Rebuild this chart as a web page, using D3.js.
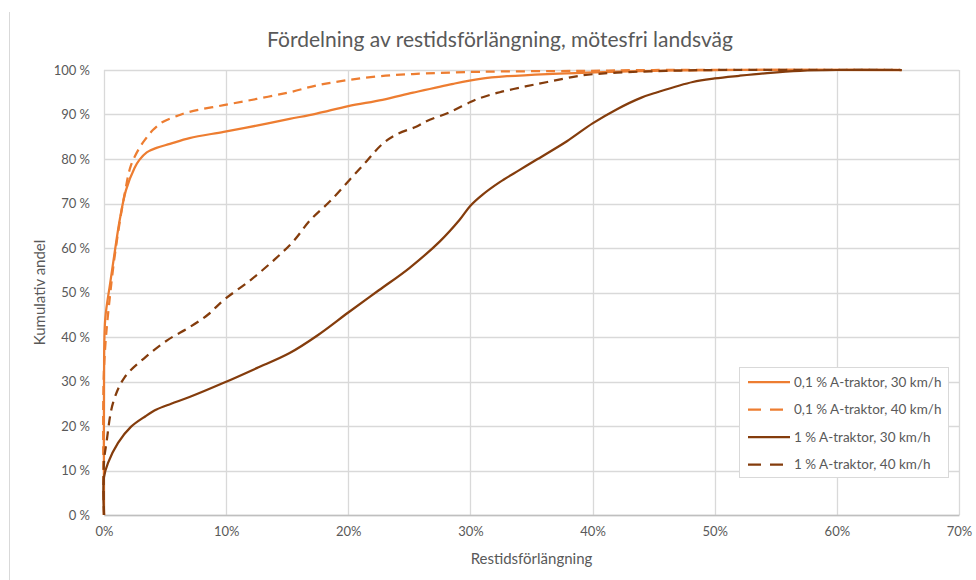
<!DOCTYPE html>
<html>
<head>
<meta charset="utf-8">
<script src="https://cdn.jsdelivr.net/npm/d3@7"></script>
<style>
  html, body { margin: 0; padding: 0; background: #fff; }
  text { font-family: Lato, "Open Sans", sans-serif; fill: #595959; }
</style>
</head>
<body>
<svg id="chart" width="976" height="580"></svg>
<script>
// ---- Data (x = restidsförlängning %, y = kumulativ andel %) ----
const titleText = "Fördelning av restidsförlängning, mötesfri landsväg";
const xTicks = [0, 10, 20, 30, 40, 50, 60, 70];
const yTicks = [0, 10, 20, 30, 40, 50, 60, 70, 80, 90, 100];
const seriesNames = ["0,1 % A-traktor, 30 km/h", "0,1 % A-traktor, 40 km/h", "1 % A-traktor, 30 km/h", "1 % A-traktor, 40 km/h"];

const s1x = [0, 0, 0.1, 0.5, 0.9, 1.3, 1.8, 2.5, 2.9, 3.5, 4.3, 5.4, 7.0, 9.8, 12.5, 15.2, 17.4, 20, 22.8, 25.3, 28.6, 30.8, 33, 36.3, 39.5, 43, 47, 52, 65.3];
const s1y = [0, 30, 44, 52, 59.5, 66.5, 73, 78, 79.8, 81.5, 82.5, 83.4, 84.7, 86.1, 87.5, 89, 90.2, 91.9, 93.3, 94.9, 96.9, 98, 98.6, 99.1, 99.4, 99.7, 99.9, 100, 100];

const s2x = [0, 0, 0.6, 1.15, 1.7, 2.2, 2.9, 3.4, 4.0, 4.8, 6, 7, 9.8, 12.5, 15.2, 17.5, 19.9, 22.5, 25.3, 30.8, 39, 45, 65.3];
const s2y = [0, 33, 52, 63.4, 72.3, 78.5, 82.5, 84.5, 86.5, 88.3, 89.7, 90.6, 92.1, 93.5, 95, 96.6, 97.7, 98.6, 99.1, 99.6, 99.8, 100, 100];

const s3x = [0, 0, 0.33, 1.15, 2.2, 3.4, 4.3, 5.5, 7.0, 9.8, 12.5, 15.2, 17.5, 20, 22.5, 25, 27.5, 29.1, 30, 31, 32.4, 34, 35.5, 37.9, 40, 42, 44, 45.3, 48.2, 50, 52, 54.3, 57, 60, 65.3];
const s3y = [0, 8.5, 11.7, 16.2, 19.8, 22.2, 23.7, 25, 26.5, 29.7, 33, 36.4, 40.4, 45.5, 50.5, 55.5, 61.5, 66.3, 69.5, 72, 74.8, 77.5, 80, 84, 88, 91.2, 93.8, 95, 97.3, 98.1, 98.7, 99.3, 99.8, 100, 100];

const s4x = [0, 0, 0.2, 0.74, 1.7, 3.4, 5.2, 7.0, 8.5, 9.8, 12, 14, 15.5, 16.9, 18.5, 20.1, 21.5, 22.8, 24, 25.6, 26.4, 28.3, 30, 30.8, 32.4, 34.5, 36.3, 39.2, 42, 46, 50, 65.3];
const s4y = [0, 12, 16.2, 25.2, 31, 35.5, 39.3, 42.2, 45, 48.3, 52.8, 57.5, 61.5, 66.3, 70.5, 75.3, 79.5, 83.4, 85.6, 87.3, 88.5, 90.5, 92.8, 93.7, 95, 96.3, 97.3, 98.8, 99.4, 99.8, 100, 100];

// ---- Styles ----
const colors = ["#ED7D31", "#ED7D31", "#843C0C", "#843C0C"];
const dashes = [null, "9,6", null, "9,6"];
const seriesX = [s1x, s2x, s3x, s4x];
const seriesY = [s1y, s2y, s3y, s4y];

const svg = d3.select("#chart");
const margin = { left: 104, top: 70, right: 976 - 959, bottom: 580 - 515 };
const W = 976, H = 580;

const x = d3.scaleLinear().domain([0, 70]).range([margin.left, W - margin.right]);
const y = d3.scaleLinear().domain([0, 100]).range([H - margin.bottom, margin.top]);

// chart area left border
svg.append("line").attr("x1", 9.5).attr("x2", 9.5).attr("y1", 12).attr("y2", 580)
  .attr("stroke", "#d9d9d9").attr("stroke-width", 1);

// gridlines
svg.append("g").selectAll("line").data(yTicks).join("line")
  .attr("x1", x(0)).attr("x2", x(70))
  .attr("y1", d => Math.round(y(d)) + 0.5).attr("y2", d => Math.round(y(d)) + 0.5)
  .attr("stroke", "#d9d9d9").attr("stroke-width", 1.3);
svg.append("g").selectAll("line").data(xTicks).join("line")
  .attr("x1", d => Math.round(x(d)) + 0.5).attr("x2", d => Math.round(x(d)) + 0.5)
  .attr("y1", y(0)).attr("y2", y(100))
  .attr("stroke", "#d9d9d9").attr("stroke-width", 1.3);

// axes (labels via d3 axis)
const xAxis = d3.axisBottom(x).tickValues(xTicks).tickFormat(d => d + "%").tickSize(0).tickPadding(12);
const gx = svg.append("g").attr("transform", `translate(0,${y(0)})`).call(xAxis);
gx.select(".domain").attr("stroke", "#bfbfbf").attr("stroke-width", 1.3);
gx.selectAll("text").style("font-size", "13px").attr("fill", "#595959");

const yAxis = d3.axisLeft(y).tickValues(yTicks).tickFormat(d => d + "\u202F%").tickSize(0).tickPadding(14);
const gy = svg.append("g").attr("transform", `translate(${x(0)},0)`).call(yAxis);
gy.select(".domain").remove();
gy.selectAll("text").style("font-size", "13px").attr("fill", "#595959");

// series lines
const line = d3.line().x(d => x(d[0])).y(d => y(d[1])).curve(d3.curveCatmullRom.alpha(0.5));
for (let i = 0; i < 4; i++) {
  const pts = seriesX[i].map((v, j) => [v, seriesY[i][j]]);
  svg.append("path").datum(pts)
    .attr("d", line)
    .attr("fill", "none")
    .attr("stroke", colors[i])
    .attr("stroke-width", 2.25)
    .attr("stroke-dasharray", dashes[i])
    .attr("stroke-linejoin", "round");
}

// title
svg.append("text").attr("x", 500).attr("y", 47).attr("text-anchor", "middle")
  .style("font-size", "21px").text(titleText);

// axis titles
svg.append("text").attr("x", x(35)).attr("y", 564).attr("text-anchor", "middle")
  .style("font-size", "15px").text("Restidsförlängning");
svg.append("text").attr("transform", `translate(45,${(y(0) + y(100)) / 2}) rotate(-90)`)
  .attr("text-anchor", "middle").style("font-size", "15px").text("Kumulativ andel");

// legend
const lg = svg.append("g");
lg.append("rect").attr("x", 739.5).attr("y", 367.5).attr("width", 209).attr("height", 110)
  .attr("fill", "#fff").attr("stroke", "#d9d9d9").attr("stroke-width", 1);
const ly = [382, 409.5, 437, 464.5];
seriesNames.forEach((name, i) => {
  lg.append("line").attr("x1", 748).attr("x2", 790).attr("y1", ly[i]).attr("y2", ly[i])
    .attr("stroke", colors[i]).attr("stroke-width", 2.25).attr("stroke-dasharray", dashes[i] ? "13,9" : null);
  lg.append("text").attr("x", 794).attr("y", ly[i] + 4.5).style("font-size", "13.5px").text(name);
});
</script>
</body>
</html>
